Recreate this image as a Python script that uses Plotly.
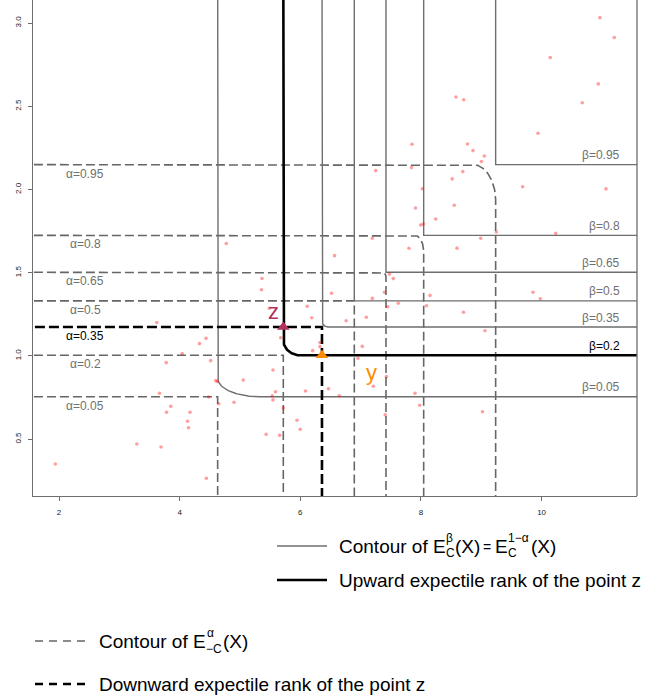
import numpy as np
import plotly.graph_objects as go

# ---------------- data ----------------
levels = [0.05, 0.2, 0.35, 0.5, 0.65, 0.8, 0.95]
corner_x = [4.630, 5.718, 6.359, 6.895, 7.420, 8.045, 9.238]
corner_y = [0.755, 1.004, 1.174, 1.331, 1.503, 1.725, 2.150]
# extent of the rounded lower-left bend of each beta contour
beta_round_x = [0.70, 0.28, 0.10, 0.0, 0.0, 0.0, 0.0]
beta_round_y = [0.111, 0.092, 0.036, 0.0, 0.0, 0.0, 0.0]
# extent of the rounded upper-right bend of each alpha contour
alpha_round_x = [0.0, 0.0, 0.0, 0.0, 0.05, 0.15, 0.38]
alpha_round_y = [0.0, 0.0, 0.0, 0.0, 0.03, 0.10, 0.216]

pts_x = [4.773, 7.851, 7.249, 7.843, 8.022, 7.909, 8.244, 7.995, 8.039, 7.193,
         7.801, 10.967, 11.204, 10.143, 10.939, 10.674, 9.940, 8.580, 8.708, 8.771,
         8.862, 9.050, 9.003, 8.693, 8.517, 9.686, 11.067, 8.551, 9.249, 10.233,
         8.990, 8.597, 6.567, 3.621, 4.437, 4.329, 4.042, 3.777, 4.514, 4.599,
         4.624, 3.666, 4.481, 4.647, 4.901, 3.853, 3.782, 4.171, 4.130, 4.147,
         3.290, 3.691, 1.939, 4.442, 5.365, 5.357, 6.517, 7.478, 7.541, 7.395,
         7.193, 7.624, 7.450, 8.150, 8.091, 6.114, 6.190, 6.760, 7.094, 5.486,
         5.675, 6.326, 6.326, 6.205, 7.027, 6.956, 5.547, 5.053, 7.428, 7.210,
         6.086, 6.467, 5.589, 5.534, 5.547, 6.646, 7.901, 7.979, 5.718, 7.407,
         5.945, 5.998, 5.434, 5.658, 9.857, 9.978, 8.705, 9.061, 9.020]
pts_y = [1.676, 2.272, 2.114, 2.132, 2.005, 1.889, 1.823, 1.787, 1.793, 1.707,
         1.647, 3.033, 2.914, 2.793, 2.635, 2.522, 2.338, 2.556, 2.540, 2.274,
         2.234, 2.202, 2.169, 2.108, 2.064, 2.017, 2.004, 1.906, 1.745, 1.737,
         1.707, 1.648, 1.603, 1.201, 1.106, 1.074, 1.014, 0.960, 0.972, 0.852,
         0.846, 0.776, 0.754, 0.713, 0.722, 0.698, 0.662, 0.662, 0.608, 0.569,
         0.471, 0.453, 0.351, 0.265, 1.466, 1.398, 1.377, 1.492, 1.465, 1.383,
         1.346, 1.317, 1.296, 1.364, 1.302, 1.299, 1.230, 1.212, 1.233, 1.287,
         1.110, 1.081, 1.056, 1.032, 1.058, 0.986, 0.916, 0.855, 0.876, 0.818,
         0.790, 0.803, 0.785, 0.761, 0.736, 0.761, 0.776, 0.704, 0.688, 0.647,
         0.614, 0.560, 0.529, 0.523, 1.383, 1.344, 1.263, 1.152, 0.665]

x_ticks = [2, 4, 6, 8, 10]
y_ticks = [0.5, 1.0, 1.5, 2.0, 2.5, 3.0]
y_tick_text = ["0.5", "1.0", "1.5", "2.0", "2.5", "3.0"]

z_level = 0.2      # upward rank of z (beta)
z_alpha = 0.35     # downward rank of z (alpha)

X_RANGE = [1.569, 11.581]
Y_RANGE = [0.1587, 3.139]

GRAY = "#6e6e6e"
DGRAY = "#666666"

fig = go.Figure()

i_z = levels.index(z_level)
i_a = levels.index(z_alpha)


def beta_path(a, b, rx, ry, n=40):
    xs = [a, a]
    ys = [Y_RANGE[1] + 0.2, b + ry]
    if rx > 0:
        t = np.linspace(0, np.pi / 2, n)
        xs += list(a + rx - rx * np.cos(t))
        ys += list(b + ry - ry * np.sin(t))
    xs.append(X_RANGE[1] + 0.2)
    ys.append(b)
    return xs, ys


def alpha_path(a, b, rx, ry, n=40):
    xs = [X_RANGE[0] - 0.2, a - rx]
    ys = [b, b]
    if rx > 0:
        t = np.linspace(0, np.pi / 2, n)
        xs += list(a - rx + rx * np.sin(t))
        ys += list(b - ry + ry * np.cos(t))
    xs.append(a)
    ys.append(Y_RANGE[0] - 0.2)
    return xs, ys


# gray dashed alpha contours
for i, lv in enumerate(levels):
    if i == i_a:
        continue
    xs, ys = alpha_path(corner_x[i], corner_y[i], alpha_round_x[i], alpha_round_y[i])
    fig.add_trace(go.Scatter(x=xs, y=ys, mode="lines", hoverinfo="skip",
                             line=dict(color=DGRAY, width=1.6, dash="9px,4px")))
# gray solid beta contours
for i, lv in enumerate(levels):
    if i == i_z:
        continue
    xs, ys = beta_path(corner_x[i], corner_y[i], beta_round_x[i], beta_round_y[i])
    fig.add_trace(go.Scatter(x=xs, y=ys, mode="lines", hoverinfo="skip",
                             line=dict(color=GRAY, width=1.4)))

# bold downward rank of z
xs, ys = alpha_path(corner_x[i_a], corner_y[i_a], alpha_round_x[i_a], alpha_round_y[i_a])
fig.add_trace(go.Scatter(x=xs, y=ys, mode="lines", hoverinfo="skip",
                         line=dict(color="black", width=2.6, dash="10px,4px")))
# bold upward rank of z
xs, ys = beta_path(corner_x[i_z], corner_y[i_z], beta_round_x[i_z], beta_round_y[i_z])
fig.add_trace(go.Scatter(x=xs, y=ys, mode="lines", hoverinfo="skip",
                         line=dict(color="black", width=2.6)))

# sample points
fig.add_trace(go.Scatter(x=pts_x, y=pts_y, mode="markers", hoverinfo="skip",
                         marker=dict(size=3.6, color="rgba(255,0,0,0.38)", line=dict(width=0))))

# points z and y
zx, zy = corner_x[i_z], corner_y[i_a]
yx, yy = corner_x[i_a], corner_y[i_z]
fig.add_trace(go.Scatter(x=[zx], y=[zy], mode="markers", hoverinfo="skip",
                         marker=dict(symbol="triangle-up", size=11, color="#B03060")))
fig.add_trace(go.Scatter(x=[yx], y=[yy], mode="markers", hoverinfo="skip",
                         marker=dict(symbol="triangle-up", size=11, color="#FF8C00")))

ann = []
ann.append(dict(x=zx, y=zy, xref="x", yref="y", text="z", showarrow=False,
                font=dict(size=22, color="#B03060", family="Arial, Liberation Sans"),
                xshift=-10, yshift=16))
ann.append(dict(x=yx, y=yy, xref="x", yref="y", text="y", showarrow=False,
                font=dict(size=22, color="#FF8C00", family="Arial, Liberation Sans"),
                xshift=50, yshift=-17))

# contour labels
for i, lv in enumerate(levels):
    col_a = "black" if i == i_a else "#707070"
    col_b = "black" if i == i_z else "#707070"
    ann.append(dict(x=2.439, y=corner_y[i], xref="x", yref="y", text=f"α={lv:g}",
                    showarrow=False, xanchor="center", yanchor="middle", yshift=-9,
                    font=dict(size=12, color=col_a, family="Arial, Liberation Sans")))
    ann.append(dict(x=11.324, y=corner_y[i], xref="x", yref="y", text=f"β={lv:g}",
                    showarrow=False, xanchor="right", yanchor="middle", yshift=9.5,
                    font=dict(size=12, color=col_b, family="Arial, Liberation Sans")))

# ---------------- legend (drawn below the plot) ----------------
PL, PR, PT, PB = 33, 637, 0, 496


def px(v):
    return (v - PL) / (PR - PL)


def py(v):
    return (PB - v) / (PB - PT)


FONT = "Arial, Liberation Sans"
shapes = []
# right border of the box
shapes.append(dict(type="line", xref="paper", yref="paper", x0=1, x1=1, y0=0, y1=1,
                   line=dict(color=GRAY, width=1.3)))

legend_rows = [
    dict(x0=277, x1=327, y=546, color=GRAY, width=1.4, dash="solid"),
    dict(x0=277, x1=327, y=580, color="black", width=2.4, dash="solid"),
    dict(x0=35, x1=88, y=641, color=DGRAY, width=1.4, dash="8px,6px"),
    dict(x0=35, x1=88, y=684, color="black", width=2.4, dash="8px,6px"),
]
for r in legend_rows:
    shapes.append(dict(type="line", xref="paper", yref="paper",
                       x0=px(r["x0"]), x1=px(r["x1"]), y0=py(r["y"]), y1=py(r["y"]),
                       line=dict(color=r["color"], width=r["width"], dash=r["dash"])))


def txt(x, y, s, size=19):
    ann.append(dict(x=px(x), y=py(y), xref="paper", yref="paper", text=s,
                    showarrow=False, xanchor="left", yanchor="middle",
                    font=dict(size=size, color="black", family=FONT)))


# row 1
txt(337, 546, "Contour of E")
txt(444, 538, "β", 12)
txt(444, 553, "C", 12)
txt(453, 546, "(X)")
txt(481, 547, "=", 14)
txt(493, 546, "E")
txt(506, 538, "1−α", 12)
txt(506, 553, "C", 12)
txt(529, 546, "(X)")
# row 2
txt(337, 580, "Upward expectile rank of the point z")
# row 3
txt(97, 641, "Contour of E")
txt(205, 633, "α", 12)
txt(204, 649, "−C", 12)
txt(221, 641, "(X)")
# row 4
txt(97, 684, "Downward expectile rank of the point z")

fig.update_layout(
    width=660, height=697,
    margin=dict(l=PL, r=660 - PR, t=PT, b=697 - PB, autoexpand=False),
    paper_bgcolor="white", plot_bgcolor="white",
    showlegend=False,
    annotations=ann, shapes=shapes,
    xaxis=dict(range=X_RANGE, showgrid=False, zeroline=False, showline=True,
               automargin=False,
               linecolor=GRAY, linewidth=1.3, ticks="outside", ticklen=4,
               tickcolor=GRAY, tickvals=x_ticks, ticklabelstandoff=4,
               tickfont=dict(size=8, color="#222", family=FONT)),
    yaxis=dict(range=Y_RANGE, showgrid=False, zeroline=False, showline=True,
               automargin=False,
               linecolor=GRAY, linewidth=1.3, ticks="outside", ticklen=4,
               tickcolor=GRAY, tickvals=y_ticks, ticktext=y_tick_text,
               tickangle=-90, ticklabelstandoff=4,
               tickfont=dict(size=8, color="#222", family=FONT)),
)

fig.write_html("out.html", config={"displayModeBar": False},
               post_script="document.body.style.margin='0';document.body.style.overflow='hidden';")
